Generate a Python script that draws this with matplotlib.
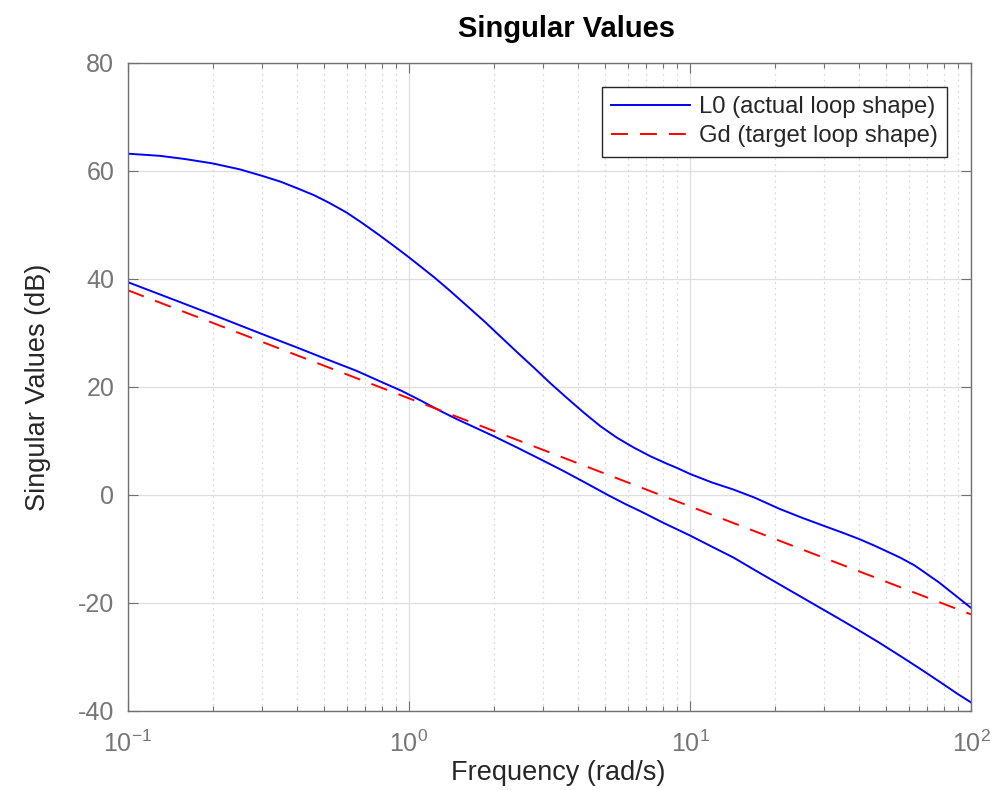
import matplotlib
matplotlib.use("Agg")
import matplotlib.pyplot as plt
from matplotlib.ticker import LogLocator, NullFormatter, FixedLocator

plt.rcParams['font.family'] = ['Liberation Sans', 'DejaVu Sans']
plt.rcParams['mathtext.fontset'] = 'custom'
plt.rcParams['mathtext.rm'] = 'Liberation Sans'
plt.rcParams['mathtext.it'] = 'Liberation Sans:italic'
plt.rcParams['mathtext.bf'] = 'Liberation Sans:bold'
plt.rcParams['axes.unicode_minus'] = False

# ---- data ----
freq_upper = [0.1, 0.13, 0.16, 0.2, 0.25, 0.3, 0.35, 0.4, 0.46, 0.52, 0.6, 0.68,
              0.78, 0.89, 1.0, 1.1, 1.23, 1.4, 1.61, 1.85, 2.12, 2.43, 2.78, 3.2,
              3.66, 4.2, 4.81, 5.5, 6.3, 7.21, 8.27, 9.0, 10, 12, 14.3, 17, 20.9,
              25, 29.9, 35, 40.2, 45, 50, 56, 62.8, 67, 71.8, 77, 82.3, 90, 100]
sv_upper = [63.2, 62.8, 62.2, 61.4, 60.3, 59.1, 58.0, 56.8, 55.5, 54.1, 52.3, 50.4,
            48.2, 46.0, 44.0, 42.3, 40.3, 37.8, 35.0, 32.2, 29.3, 26.4, 23.6, 20.6,
            17.9, 15.2, 12.7, 10.6, 8.8, 7.2, 5.8, 5.0, 3.9, 2.3, 1.0, -0.5, -2.6,
            -4.2, -5.7, -7.0, -8.2, -9.3, -10.4, -11.6, -13.0, -14.0, -15.1, -16.2,
            -17.4, -19.0, -20.9]

freq_lower = [0.1, 0.15, 0.2, 0.3, 0.4, 0.5, 0.65, 0.8, 0.94, 1.1, 1.3, 1.5, 1.75,
              2.0, 2.4, 2.94, 3.5, 4.2, 5.1, 5.9, 6.66, 8.0, 10, 12, 14.3, 17, 20.9,
              24, 28.4, 33.9, 40, 47, 56, 66, 79, 90, 100]
sv_lower = [39.4, 35.9, 33.4, 29.8, 27.3, 25.3, 23.0, 20.9, 19.3, 17.5, 15.5, 13.9,
            12.3, 10.9, 8.9, 6.6, 4.6, 2.4, 0.0, -1.7, -3.0, -5.1, -7.5, -9.6, -11.6,
            -13.9, -16.6, -18.4, -20.6, -22.9, -25.1, -27.3, -29.8, -32.2, -34.9,
            -36.9, -38.4]

freq_gd = [0.1, 1, 10, 100]
sv_gd = [37.9, 17.9, -2.1, -22.1]

title = "Singular Values"
xlabel = "Frequency (rad/s)"
ylabel = "Singular Values (dB)"
legend_labels = ["L0 (actual loop shape)", "Gd (target loop shape)"]
yticks = [-40, -20, 0, 20, 40, 60, 80]
xticks = [0.1, 1, 10, 100]
xticklabels = [r"$10^{-1}$", r"$10^{0}$", r"$10^{1}$", r"$10^{2}$"]

# ---- figure ----
fig = plt.figure(figsize=(9.97, 7.90), dpi=100)
ax = fig.add_axes([0.1284, 0.1, 0.8455, 0.8203])

lw = 1.4
l1, = ax.plot(freq_upper, sv_upper, color='#0000ff', lw=lw)
ax.plot(freq_lower, sv_lower, color='#0000ff', lw=lw)
l2, = ax.plot(freq_gd, sv_gd, color='#ff0000', lw=lw, ls=(0, (8.7, 6.2)))

ax.set_xscale('log')
ax.set_xlim(0.1, 100)
ax.set_ylim(-40, 80)
ax.set_yticks(yticks)
ax.xaxis.set_major_locator(FixedLocator(xticks))
ax.set_xticklabels(xticklabels)
ax.xaxis.set_minor_locator(LogLocator(base=10, subs=range(2, 10)))
ax.xaxis.set_minor_formatter(NullFormatter())

gray = '#707070'
for s in ax.spines.values():
    s.set_color(gray)
    s.set_linewidth(1.0)

ax.tick_params(axis='both', which='major', direction='in', length=7, width=0.8,
               color=gray, labelcolor='#767676', labelsize=18,
               top=True, right=True)
ax.tick_params(axis='x', which='major', pad=14)
ax.tick_params(axis='y', which='major', pad=10)
ax.tick_params(axis='x', which='minor', direction='in', length=3.5, width=0.8,
               color=gray, top=True, bottom=True)

ax.grid(True, which='major', color='#dedede', lw=0.9, ls='-')
ax.grid(True, which='minor', axis='x', color='#d9d9d9', lw=0.9, ls=(0, (1.5, 3)))
ax.set_axisbelow(True)

ax.set_title(title, fontsize=21, fontweight='bold', color='#000000', pad=18.5,
             x=0.52)
ax.set_xlabel(xlabel, fontsize=19.5, color='#262626', labelpad=0)
ax.xaxis.set_label_coords(0.51, -0.075)
ax.set_ylabel(ylabel, fontsize=19.5, color='#262626', labelpad=19)

leg = ax.legend([l1, l2], legend_labels, loc='upper right',
                bbox_to_anchor=(0.9715, 0.963), borderaxespad=0,
                fontsize=17.2, frameon=True, fancybox=False, framealpha=1,
                edgecolor='#262626', handlelength=3.3, handletextpad=0.35,
                borderpad=0.4, labelspacing=0.28)
leg.get_frame().set_linewidth(1.0)
for t in leg.get_texts():
    t.set_color('#262626')

fig.savefig('out.png', dpi=100)
